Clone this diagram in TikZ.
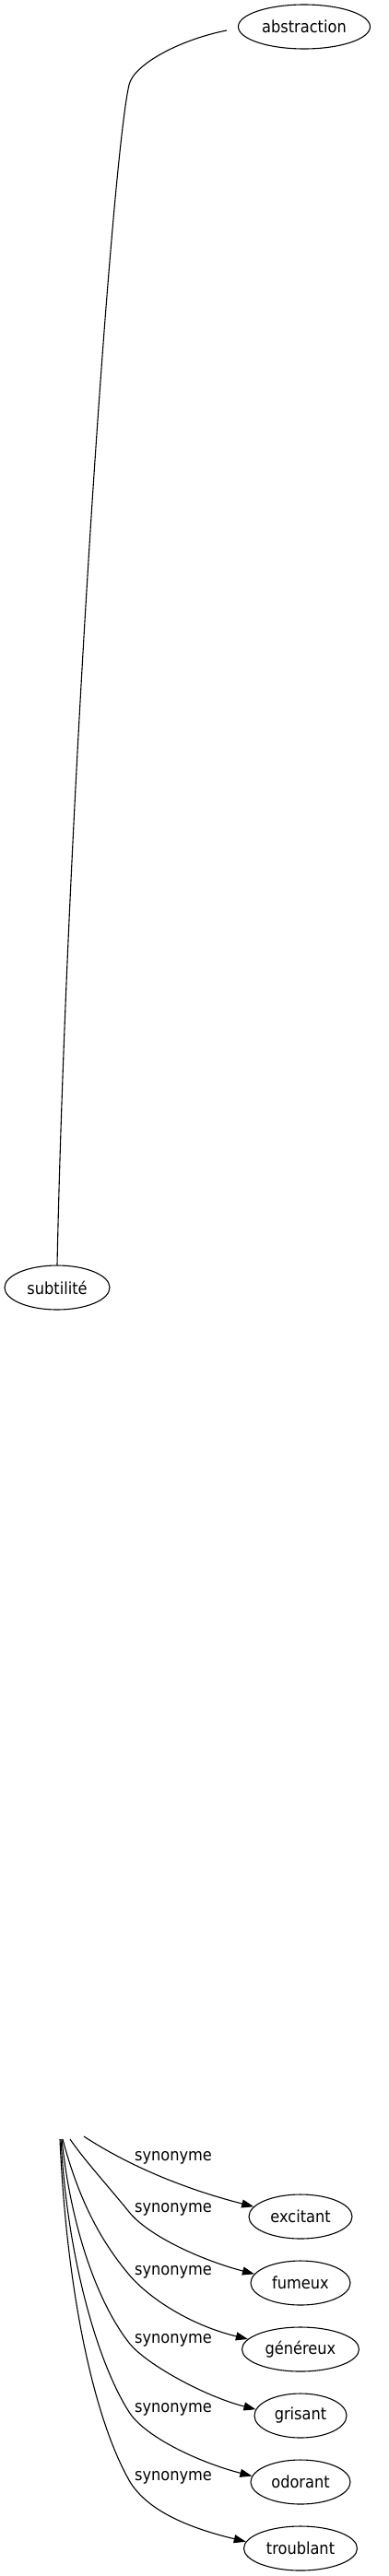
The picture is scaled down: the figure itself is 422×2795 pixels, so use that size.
\documentclass[tikz,border=0pt]{standalone}
\usepackage{fontspec}
\setmainfont{DejaVu Sans}[FakeStretch=0.9]
\usetikzlibrary{arrows.meta,calc,shapes.geometric}
\begin{document}
\begin{tikzpicture}[x=1pt,y=-1pt,
  word/.style={draw,ellipse,line width=1.1pt,inner sep=0pt,minimum height=48pt,font=\fontsize{18}{20}\selectfont},
  lbl/.style={inner sep=0pt,font=\fontsize{18}{20}\selectfont},
  link/.style={line width=1.1pt},
  syn/.style={line width=1.1pt,-{Triangle[length=13pt,width=9pt]}}]
\fill[white] (0,0) rectangle (422,2795);
\useasboundingbox (0,0) rectangle (422,2795);
\node[word,minimum width=143pt] (abstraction) at (330,29) {abstraction};
\node[word,minimum width=114pt] (subtilite) at (62,1397) {subtilité};
\node[word,minimum width=112pt] (excitant) at (326,2405) {excitant};
\node[word,minimum width=108pt] (fumeux) at (326,2477) {fumeux};
\node[word,minimum width=127pt] (genereux) at (326,2549) {généreux};
\node[word,minimum width=100pt] (grisant) at (326,2621) {grisant};
\node[word,minimum width=108pt] (odorant) at (326,2693) {odorant};
\node[word,minimum width=123pt] (troublant) at (326,2765) {troublant};
\coordinate (src) at (66,2321);
\node[lbl] (l1) at (188,2341) {synonyme};
\node[lbl] (l2) at (188,2397) {synonyme};
\node[lbl] (l3) at (188,2465) {synonyme};
\node[lbl] (l4) at (188,2539) {synonyme};
\node[lbl] (l5) at (188,2614) {synonyme};
\node[lbl] (l6) at (188,2688) {synonyme};
\draw[link] (subtilite.north) .. controls (72,900) and (120,180) .. (140,92) .. controls (145,70) and (195,43) .. ($(abstraction.west)+(-12,4)$);
\draw[syn] ($(src)+(25,-3)$) .. controls (140,2350) and (200,2375) .. (excitant.168);
\draw[syn] ($(src)+(10,0)$) .. controls (90,2342) and (120,2375) .. (140,2400) .. controls (162,2427) and (221,2453) .. (fumeux.169);
\draw[syn] ($(src)+(2,0)$) .. controls (85,2385) and (108,2430) .. (140,2468) .. controls (162,2494) and (207,2523) .. (genereux.169);
\draw[syn] ($(src)+(1,0)$) .. controls (77,2416) and (105,2497) .. (140,2542) .. controls (158,2565) and (222,2600) .. (grisant.172);
\draw[syn] (src) .. controls (73,2448) and (105,2562) .. (140,2617) .. controls (157.5,2644.5) and (217,2672) .. (odorant.173);
\draw[syn] ($(src)+(-1,0)$) .. controls (72,2480) and (100,2620) .. (140,2691) .. controls (160,2726) and (210,2744) .. (troublant.173);
\end{tikzpicture}
\end{document}
